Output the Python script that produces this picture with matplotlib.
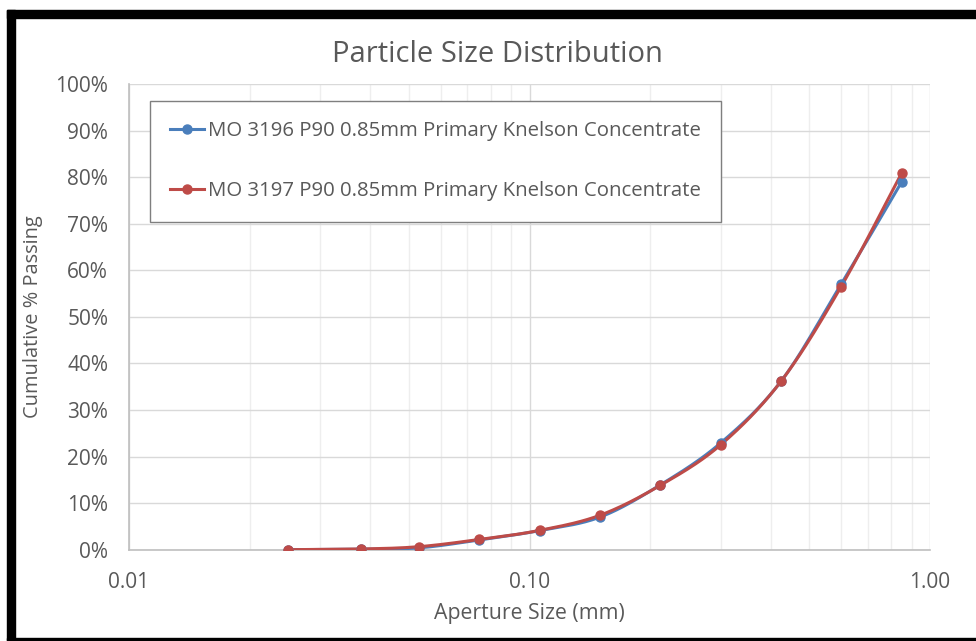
import numpy as np
import matplotlib
matplotlib.use("Agg")
import matplotlib.pyplot as plt
from matplotlib.patches import Rectangle
from matplotlib.ticker import FixedLocator, FuncFormatter, LogLocator, NullFormatter

# ---- data ----
sizes_mm = [0.025, 0.038, 0.053, 0.075, 0.106, 0.150, 0.212, 0.300, 0.425, 0.600, 0.850]
mo3196 = [0.0, 0.1, 0.4, 2.1, 4.1, 7.0, 13.9, 22.9, 36.2, 57.0, 79.0]
mo3197 = [0.0, 0.15, 0.65, 2.2, 4.15, 7.4, 13.8, 22.5, 36.2, 56.5, 80.9]
series_names = ["MO 3196 P90 0.85mm Primary Knelson Concentrate",
                "MO 3197 P90 0.85mm Primary Knelson Concentrate"]
series_colors = ["#4A7EBB", "#BE4B48"]
x_ticks = [0.01, 0.1, 1.0]
x_tick_labels = ["0.01", "0.10", "1.00"]
y_ticks = list(range(0, 101, 10))

TXT = "#595959"
FONT = ["Open Sans", "DejaVu Sans"]
plt.rcParams["font.family"] = FONT

W, H, DPI = 976, 641, 100
fig = plt.figure(figsize=(W / DPI, H / DPI), dpi=DPI)

# black frame pieces
def prect(x0, y0, x1, y1):
    fig.patches.append(Rectangle((x0 / W, 1 - y1 / H), (x1 - x0) / W, (y1 - y0) / H,
                                 transform=fig.transFigure, color="black", zorder=10))
prect(7, 10, 976, 18)
prect(7, 10, 15, 641)
prect(7, 637.5, 976, 640)

L, R, T, B = 129, 930, 84, 549.7
ax = fig.add_axes([L / W, 1 - B / H, (R - L) / W, (B - T) / H])
ax.set_xscale("log")
ax.set_xlim(0.01, 1.0)
ax.set_ylim(0, 100)


def smooth(xs, ys, n=30):
    # Bezier (Catmull-Rom style) smoothing in screen-proportional space
    u = (np.log10(xs) + 2) / 2 * (R - L)
    v = np.asarray(ys) / 100 * (B - T)
    P = np.column_stack([u, v])
    out = [P[0]]
    for i in range(len(P) - 1):
        p0 = P[i - 1] if i > 0 else P[i]
        p1, p2 = P[i], P[i + 1]
        p3 = P[i + 2] if i + 2 < len(P) else P[i + 1]
        c1 = p1 + (p2 - p0) / 6
        c2 = p2 - (p3 - p1) / 6
        t = np.linspace(0, 1, n)[1:, None]
        seg = ((1 - t) ** 3) * p1 + 3 * ((1 - t) ** 2) * t * c1 + 3 * (1 - t) * t ** 2 * c2 + t ** 3 * p2
        out.extend(seg)
    out = np.array(out)
    xx = 10 ** (out[:, 0] / (R - L) * 2 - 2)
    yy = out[:, 1] / (B - T) * 100
    return xx, yy

handles = []
for ys, name, col in zip([mo3196, mo3197], series_names, series_colors):
    sx, sy = smooth(np.array(sizes_mm), ys)
    ax.plot(sx, sy, color=col, lw=2.2, solid_capstyle="round", zorder=3)
    ax.plot(sizes_mm, ys, ls="none", marker="o", ms=6.5, color=col, zorder=4)
    h, = ax.plot([], [], color=col, lw=2.2, marker="o", ms=6.5)
    handles.append(h)

# grid
ax.xaxis.set_major_locator(FixedLocator(x_ticks))
ax.xaxis.set_major_formatter(FuncFormatter(lambda v, p: x_tick_labels[x_ticks.index(v)] if v in x_ticks else ""))
ax.xaxis.set_minor_locator(LogLocator(base=10, subs=np.arange(2, 10)))
ax.xaxis.set_minor_formatter(NullFormatter())
ax.yaxis.set_major_locator(FixedLocator(y_ticks))
ax.yaxis.set_major_formatter(FuncFormatter(lambda v, p: f"{v:.0f}%"))
ax.grid(True, which="major", axis="both", color="#D9D9D9", lw=1.0, zorder=0)
ax.grid(True, which="minor", axis="x", color="#EEEEEE", lw=1.0, zorder=0)
ax.set_axisbelow(True)
for s in ["top", "right"]:
    ax.spines[s].set_visible(False)
for s in ["left", "bottom"]:
    ax.spines[s].set_color("#BFBFBF")
    ax.spines[s].set_linewidth(1.2)
ax.tick_params(which="both", length=0)
ax.tick_params(axis="y", pad=15, labelsize=15, labelcolor=TXT)
ax.tick_params(axis="x", pad=16, labelsize=15, labelcolor=TXT)

ax.set_xlabel("Aperture Size (mm)", fontsize=15.3, color=TXT, labelpad=7)
ax.set_ylabel("Cumulative % Passing", fontsize=14.4, color=TXT, labelpad=9)
fig.text(497 / W, 1 - 55 / H, "Particle Size Distribution", ha="center", va="center",
         fontsize=21, color=TXT)

leg = ax.legend(handles, series_names, loc="upper left",
                bbox_to_anchor=(150 / W, 1 - 101 / H), bbox_transform=fig.transFigure,
                fontsize=14.7, frameon=True, fancybox=False, framealpha=1,
                edgecolor="#7F7F7F", borderpad=1.0, labelspacing=1.95,
                handlelength=1.65, handletextpad=0.2, borderaxespad=0)
leg.get_frame().set_linewidth(1.0)
for t in leg.get_texts():
    t.set_color(TXT)

fig.savefig("out.png", dpi=DPI, facecolor="white")
